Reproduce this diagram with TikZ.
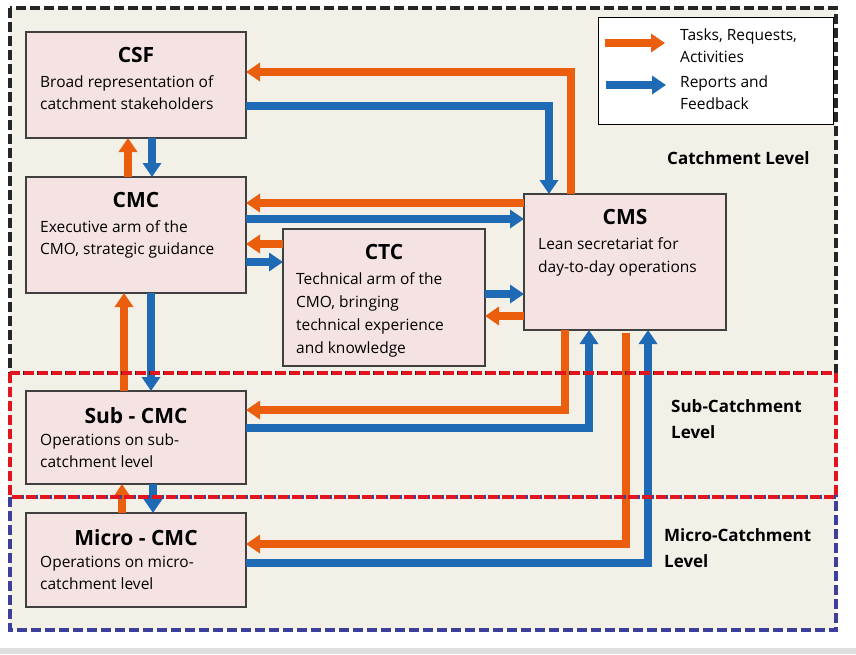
\documentclass[tikz,border=0pt]{standalone}
\usepackage{fontspec}
\setmainfont{Open Sans}
\usepackage{xcolor}
\usetikzlibrary{positioning,arrows.meta}

\definecolor{taskorange}{RGB}{235,94,14}
\definecolor{reportblue}{RGB}{31,106,181}
\definecolor{boxpink}{RGB}{245,227,227}
\definecolor{levelbg}{RGB}{243,240,232}
\definecolor{framered}{RGB}{226,20,30}
\definecolor{frameblue}{RGB}{60,64,155}

\begin{document}
\begin{tikzpicture}[x=1pt, y=1pt,
    main/.style = {draw=black!75, fill=boxpink, line width=1.2pt, inner sep=0pt, outer sep=0pt},
    ttl/.style = {inner sep=0pt, font=\fontsize{21}{25}\selectfont\bfseries},
    dsc/.style = {inner sep=0pt, align=left, font=\fontsize{15.5}{22}\selectfont},
    lvl/.style = {inner sep=0pt, align=left, font=\fontsize{17}{26}\selectfont\bfseries},
    task/.style = {draw=taskorange, line width=8pt, -{Triangle[width=18pt,length=14pt]}},
    report/.style = {draw=reportblue, line width=8pt, -{Triangle[width=18pt,length=14pt]}},
    lvlframe/.style = {line width=3.4pt, dash pattern=on 10pt off 4pt}]

    \useasboundingbox (0,0) rectangle (856,-654);
    \fill[black!13] (0,-648) rectangle (856,-654);
    \fill[levelbg] (10,-8) rectangle (836,-630);

    % units
    \node[main, minimum width=220pt, minimum height=106pt] (csf) at (136,-85) {};
    \node[ttl, below=15pt of csf.north] (csf-t) {CSF};
    \node[dsc, below right=43pt and 14pt of csf.north west] (csf-d) {Broad representation of\\catchment stakeholders};

    \node[main, minimum width=220pt, minimum height=116pt, below=39pt of csf] (cmc) {};
    \node[ttl, below=15pt of cmc.north] (cmc-t) {CMC};
    \node[dsc, below right=43pt and 14pt of cmc.north west] (cmc-d) {Executive arm of the\\CMO, strategic guidance};

    \node[main, minimum width=202pt, minimum height=137pt, below right=52pt and 37pt of cmc.north east] (ctc) {};
    \node[ttl, below=15pt of ctc.north] (ctc-t) {CTC};
    \node[dsc, below right=43pt and 13pt of ctc.north west, font=\fontsize{15.5}{23}\selectfont] (ctc-d) {Technical arm of the\\CMO, bringing\\technical experience\\and knowledge};

    \node[main, minimum width=202pt, minimum height=136pt, right=39pt of ctc.north east, anchor=north west, yshift=35pt] (cms) {};
    \node[ttl, below=15pt of cms.north] (cms-t) {CMS};
    \node[dsc, below right=43pt and 14pt of cms.north west, font=\fontsize{15.5}{23}\selectfont] (cms-d) {Lean secretariat for\\day-to-day operations};

    \node[main, minimum width=220pt, minimum height=93pt, below=98pt of cmc] (sub) {};
    \node[ttl, below=16pt of sub.north] (sub-t) {Sub - CMC};
    \node[dsc, below right=43pt and 14pt of sub.north west] (sub-d) {Operations on sub-\\catchment level};

    \node[main, minimum width=220pt, minimum height=94pt, below=29pt of sub] (micro) {};
    \node[ttl, below=16pt of micro.north] (micro-t) {Micro - CMC};
    \node[dsc, below right=43pt and 14pt of micro.north west] (micro-d) {Operations on micro-\\catchment level};

    % levels
    \node[lvl, anchor=west] (catch) at (667,-158) {Catchment Level};
    \node[lvl, anchor=north west] (subl) at (671,-399) {Sub-Catchment\\Level};
    \node[lvl, anchor=north west] (microl) at (664,-528) {Micro-Catchment\\Level};

    % legend
    \node[draw, fill=white, line width=1.4pt, minimum width=235pt, minimum height=107pt, anchor=north west] (legend) at (598,-17) {};
    \node[dsc, below right=12pt and 82pt of legend.north west] (leg-t) {Tasks, Requests,\\Activities};
    \node[dsc, below right=59pt and 82pt of legend.north west] (leg-r) {Reports and\\Feedback};
    \coordinate (leg-t0) at ([xshift=7pt,yshift=-26pt]legend.north west);
    \coordinate (leg-t1) at ([xshift=67pt,yshift=-26pt]legend.north west);
    \coordinate (leg-r0) at ([xshift=8pt,yshift=-68pt]legend.north west);
    \coordinate (leg-r1) at ([xshift=68pt,yshift=-68pt]legend.north west);
    \draw[task] (leg-t0) -- (leg-t1);
    \draw[report] (leg-r0) -- (leg-r1);

    % flows
    \draw[task] ([xshift=-54pt]cms.north) |- ([yshift=13pt]csf.east);
    \draw[report] ([yshift=-21pt]csf.east) -| ([xshift=-76pt]cms.north);
    \draw[task] ([xshift=-8pt]cmc.north) -- ([xshift=-8pt]csf.south);
    \draw[report] ([xshift=16pt]csf.south) -- ([xshift=16pt]cmc.north);

    \draw[task] ([yshift=59pt]cms.west) -- ([yshift=59pt]cms.west -| cmc.east);
    \draw[report] ([yshift=16pt]cmc.east) -- ([yshift=16pt]cmc.east -| cms.west);
    \draw[task] ([yshift=53.5pt]ctc.west) -- ([yshift=53.5pt]ctc.west -| cmc.east);
    \draw[report] ([yshift=-27pt]cmc.east) -- ([yshift=-27pt]cmc.east -| ctc.west);
    \draw[report] ([yshift=3.5pt]ctc.east) -- ([yshift=3.5pt]ctc.east -| cms.west);
    \draw[task] ([yshift=-54pt]cms.west) -- ([yshift=-54pt]cms.west -| ctc.east);

    \draw[task] ([xshift=-12pt]sub.north) -- ([xshift=-12pt]cmc.south);
    \draw[report] ([xshift=15pt]cmc.south) -- ([xshift=15pt]sub.north);
    \draw[task] ([xshift=-60pt]cms.south) |- ([yshift=27.5pt]sub.east);
    \draw[report] ([yshift=9.5pt]sub.east) -| ([xshift=-36pt]cms.south);

    \draw[task] ([xshift=-14pt]micro.north) -- ([xshift=-14pt]sub.south);
    \draw[report] ([xshift=17pt]sub.south) -- ([xshift=17pt]micro.north);
    \draw[task] ([xshift=1pt,yshift=-3pt]cms.south) |- ([yshift=16pt]micro.east);
    \draw[report] ([yshift=-3pt]micro.east) -| ([xshift=23pt]cms.south);

    % level frames
    \draw[lvlframe, frameblue] (10,-497) rectangle (836,-630);
    \draw[lvlframe, black!85] (10,-8) rectangle (836,-373);
    \draw[lvlframe, framered] (10,-373) rectangle (836,-497);
\end{tikzpicture}
\end{document}
